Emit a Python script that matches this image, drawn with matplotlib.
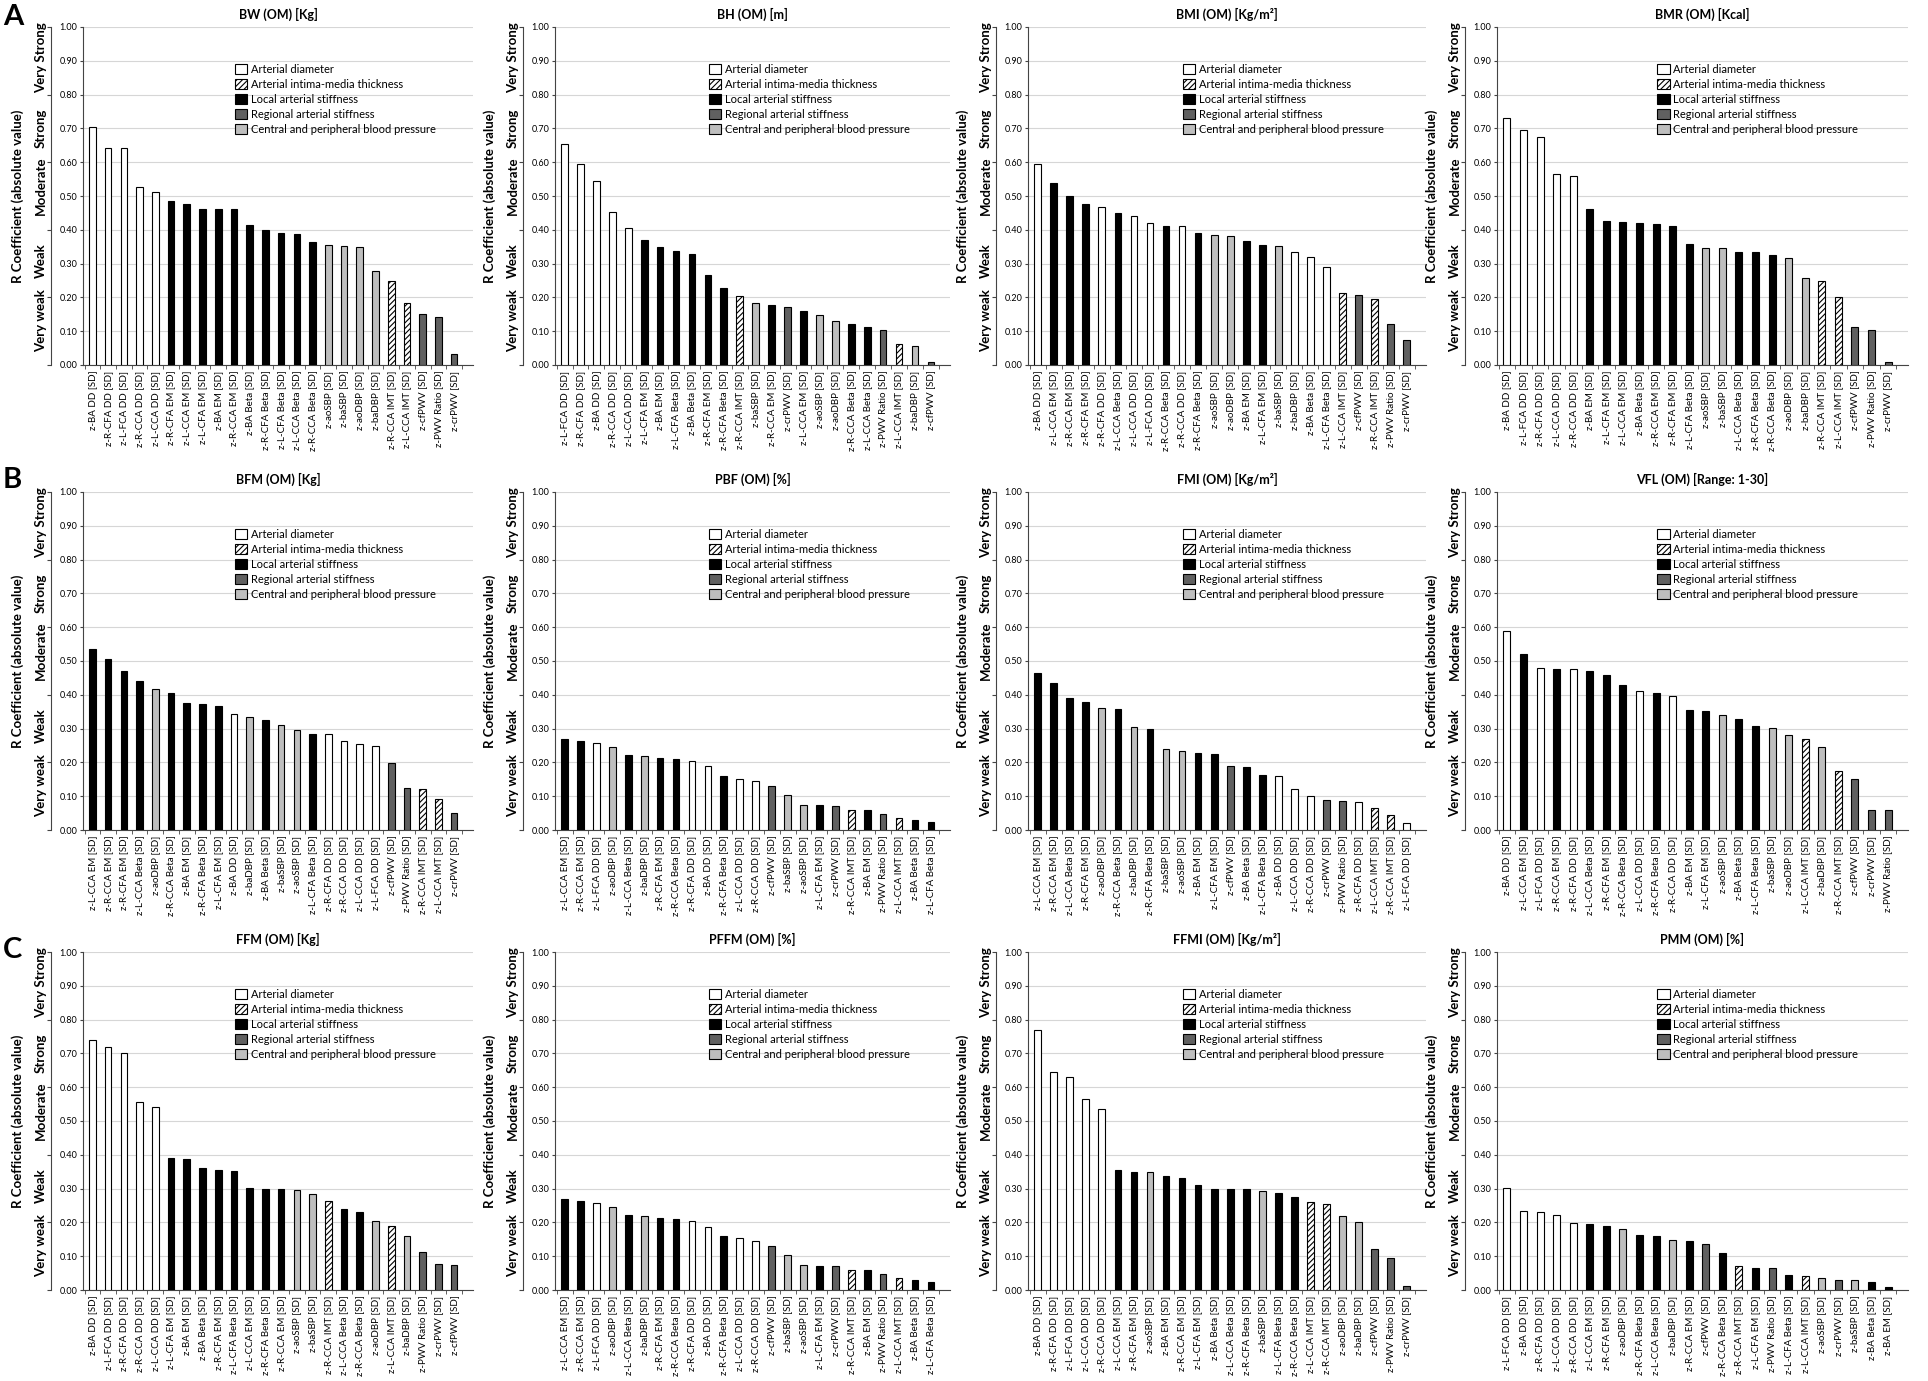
import matplotlib
matplotlib.use('Agg')
import numpy as np
import matplotlib.pyplot as plt
from matplotlib.patches import Patch

plt.rcParams['font.family'] = ['Lato', 'DejaVu Sans']
plt.rcParams['hatch.linewidth'] = 0.8

# ---- data (R coefficients, absolute value) ----
bw_labels = ['z-BA DD', 'z-R-CFA DD', 'z-L-FCA DD', 'z-R-CCA DD', 'z-L-CCA DD', 'z-R-CFA EM',
             'z-L-CCA EM', 'z-L-CFA EM', 'z-BA EM', 'z-R-CCA EM', 'z-BA Beta', 'z-R-CFA Beta',
             'z-L-CFA Beta', 'z-L-CCA Beta', 'z-R-CCA Beta', 'z-aoSBP', 'z-baSBP', 'z-aoDBP',
             'z-baDBP', 'z-R-CCA IMT', 'z-L-CCA IMT', 'z-cfPWV', 'z-PWV Ratio', 'z-crPWV']
bw_values = [0.703, 0.643, 0.641, 0.528, 0.513, 0.484, 0.477, 0.463, 0.462, 0.461, 0.415, 0.399,
             0.391, 0.387, 0.364, 0.356, 0.353, 0.350, 0.277, 0.250, 0.183, 0.150, 0.143, 0.033]

bh_labels = ['z-L-FCA DD', 'z-R-CFA DD', 'z-BA DD', 'z-R-CCA DD', 'z-L-CCA DD', 'z-L-CFA EM',
             'z-BA EM', 'z-L-CFA Beta', 'z-BA Beta', 'z-R-CFA EM', 'z-R-CFA Beta', 'z-R-CCA IMT',
             'z-baSBP', 'z-R-CCA EM', 'z-crPWV', 'z-L-CCA EM', 'z-aoSBP', 'z-aoDBP',
             'z-R-CCA Beta', 'z-L-CCA Beta', 'z-PWV Ratio', 'z-L-CCA IMT', 'z-baDBP', 'z-cfPWV']
bh_values = [0.653, 0.596, 0.544, 0.454, 0.404, 0.370, 0.349, 0.336, 0.329, 0.265, 0.229, 0.205,
             0.182, 0.177, 0.172, 0.160, 0.148, 0.130, 0.122, 0.113, 0.105, 0.063, 0.055, 0.010]

bmi_labels = ['z-BA DD', 'z-L-CCA EM', 'z-R-CCA EM', 'z-R-CFA EM', 'z-R-CFA DD', 'z-L-CCA Beta',
              'z-L-CCA DD', 'z-L-FCA DD', 'z-R-CCA Beta', 'z-R-CCA DD', 'z-R-CFA Beta', 'z-aoSBP',
              'z-aoDBP', 'z-BA EM', 'z-L-CFA EM', 'z-baSBP', 'z-baDBP', 'z-BA Beta',
              'z-L-CFA Beta', 'z-L-CCA IMT', 'z-cfPWV', 'z-R-CCA IMT', 'z-PWV Ratio', 'z-crPWV']
bmi_values = [0.596, 0.537, 0.500, 0.476, 0.468, 0.451, 0.442, 0.420, 0.412, 0.410, 0.390, 0.385,
              0.383, 0.367, 0.356, 0.352, 0.334, 0.321, 0.290, 0.213, 0.208, 0.195, 0.121, 0.075]

bmr_labels = ['z-BA DD', 'z-L-FCA DD', 'z-R-CFA DD', 'z-L-CCA DD', 'z-R-CCA DD', 'z-BA EM',
              'z-L-CFA EM', 'z-L-CCA EM', 'z-BA Beta', 'z-R-CCA EM', 'z-R-CFA EM', 'z-L-CFA Beta',
              'z-aoSBP', 'z-baSBP', 'z-L-CCA Beta', 'z-R-CFA Beta', 'z-R-CCA Beta', 'z-aoDBP',
              'z-baDBP', 'z-R-CCA IMT', 'z-L-CCA IMT', 'z-cfPWV', 'z-PWV Ratio', 'z-crPWV']
bmr_values = [0.731, 0.695, 0.675, 0.565, 0.560, 0.462, 0.425, 0.422, 0.420, 0.418, 0.412, 0.358,
              0.347, 0.347, 0.335, 0.333, 0.325, 0.318, 0.257, 0.250, 0.202, 0.112, 0.105, 0.008]

bfm_labels = ['z-L-CCA EM', 'z-R-CCA EM', 'z-R-CFA EM', 'z-L-CCA Beta', 'z-aoDBP', 'z-R-CCA Beta',
              'z-BA EM', 'z-R-CFA Beta', 'z-L-CFA EM', 'z-BA DD', 'z-baDBP', 'z-BA Beta',
              'z-baSBP', 'z-aoSBP', 'z-L-CFA Beta', 'z-R-CFA DD', 'z-R-CCA DD', 'z-L-CCA DD',
              'z-L-FCA DD', 'z-cfPWV', 'z-PWV Ratio', 'z-R-CCA IMT', 'z-L-CCA IMT', 'z-crPWV']
bfm_values = [0.535, 0.507, 0.470, 0.440, 0.417, 0.405, 0.376, 0.372, 0.368, 0.343, 0.335, 0.325,
              0.310, 0.296, 0.285, 0.283, 0.262, 0.253, 0.250, 0.198, 0.123, 0.120, 0.093, 0.050]

pbf_labels = ['z-L-CCA EM', 'z-R-CCA EM', 'z-L-FCA DD', 'z-aoDBP', 'z-L-CCA Beta', 'z-baDBP',
              'z-R-CFA EM', 'z-R-CCA Beta', 'z-R-CFA DD', 'z-BA DD', 'z-R-CFA Beta', 'z-L-CCA DD',
              'z-R-CCA DD', 'z-cfPWV', 'z-baSBP', 'z-aoSBP', 'z-L-CFA EM', 'z-crPWV',
              'z-R-CCA IMT', 'z-BA EM', 'z-PWV Ratio', 'z-L-CCA IMT', 'z-BA Beta', 'z-L-CFA Beta']
pbf_values = [0.268, 0.263, 0.258, 0.245, 0.222, 0.218, 0.212, 0.210, 0.203, 0.188, 0.160, 0.152,
              0.145, 0.130, 0.105, 0.075, 0.073, 0.070, 0.060, 0.058, 0.048, 0.035, 0.030, 0.025]

fmi_labels = ['z-L-CCA EM', 'z-R-CCA EM', 'z-L-CCA Beta', 'z-R-CFA EM', 'z-aoDBP', 'z-R-CCA Beta',
              'z-baDBP', 'z-R-CFA Beta', 'z-baSBP', 'z-aoSBP', 'z-BA EM', 'z-L-CFA EM',
              'z-cfPWV', 'z-BA Beta', 'z-L-CFA Beta', 'z-BA DD', 'z-L-CCA DD', 'z-R-CCA DD',
              'z-crPWV', 'z-PWV Ratio', 'z-R-CFA DD', 'z-L-CCA IMT', 'z-R-CCA IMT', 'z-L-FCA DD']
fmi_values = [0.465, 0.435, 0.390, 0.380, 0.362, 0.358, 0.305, 0.300, 0.240, 0.235, 0.228, 0.225,
              0.190, 0.185, 0.162, 0.160, 0.120, 0.100, 0.090, 0.085, 0.082, 0.065, 0.045, 0.022]

vfl_labels = ['z-BA DD', 'z-L-CCA EM', 'z-L-FCA DD', 'z-R-CCA EM', 'z-R-CFA DD', 'z-L-CCA Beta',
              'z-R-CFA EM', 'z-R-CCA Beta', 'z-L-CCA DD', 'z-R-CFA Beta', 'z-R-CCA DD', 'z-BA EM',
              'z-L-CFA EM', 'z-aoSBP', 'z-BA Beta', 'z-L-CFA Beta', 'z-baSBP', 'z-aoDBP',
              'z-L-CCA IMT', 'z-baDBP', 'z-R-CCA IMT', 'z-cfPWV', 'z-crPWV', 'z-PWV Ratio']
vfl_values = [0.590, 0.522, 0.480, 0.475, 0.475, 0.470, 0.460, 0.430, 0.412, 0.405, 0.395, 0.355,
              0.352, 0.340, 0.328, 0.308, 0.302, 0.280, 0.270, 0.245, 0.175, 0.150, 0.060, 0.060]

ffm_labels = ['z-BA DD', 'z-L-FCA DD', 'z-R-CFA DD', 'z-R-CCA DD', 'z-L-CCA DD', 'z-L-CFA EM',
              'z-BA EM', 'z-BA Beta', 'z-R-CFA EM', 'z-L-CFA Beta', 'z-L-CCA EM', 'z-R-CFA Beta',
              'z-R-CCA EM', 'z-aoSBP', 'z-baSBP', 'z-R-CCA IMT', 'z-L-CCA Beta', 'z-R-CCA Beta',
              'z-aoDBP', 'z-L-CCA IMT', 'z-baDBP', 'z-PWV Ratio', 'z-crPWV', 'z-cfPWV']
ffm_values = [0.740, 0.720, 0.700, 0.555, 0.540, 0.392, 0.388, 0.360, 0.355, 0.352, 0.302, 0.300,
              0.298, 0.295, 0.283, 0.262, 0.240, 0.230, 0.205, 0.190, 0.160, 0.113, 0.078, 0.073]

pffm_labels = ['z-L-CCA EM', 'z-R-CCA EM', 'z-L-FCA DD', 'z-aoDBP', 'z-L-CCA Beta', 'z-baDBP',
               'z-R-CFA EM', 'z-R-CCA Beta', 'z-R-CFA DD', 'z-BA DD', 'z-R-CFA Beta', 'z-L-CCA DD',
               'z-R-CCA DD', 'z-cfPWV', 'z-baSBP', 'z-aoSBP', 'z-L-CFA EM', 'z-crPWV',
               'z-R-CCA IMT', 'z-BA EM', 'z-PWV Ratio', 'z-L-CCA IMT', 'z-BA Beta', 'z-L-CFA Beta']
pffm_values = [0.268, 0.262, 0.258, 0.245, 0.222, 0.218, 0.212, 0.210, 0.203, 0.187, 0.160, 0.153,
               0.145, 0.130, 0.105, 0.075, 0.072, 0.070, 0.060, 0.058, 0.048, 0.035, 0.030, 0.025]

ffmi_labels = ['z-BA DD', 'z-R-CFA DD', 'z-L-FCA DD', 'z-L-CCA DD', 'z-R-CCA DD', 'z-L-CCA EM',
               'z-R-CFA EM', 'z-aoSBP', 'z-BA EM', 'z-R-CCA EM', 'z-L-CFA EM', 'z-BA Beta',
               'z-L-CCA Beta', 'z-R-CFA Beta', 'z-baSBP', 'z-L-CFA Beta', 'z-R-CCA Beta',
               'z-L-CCA IMT', 'z-R-CCA IMT', 'z-aoDBP', 'z-baDBP', 'z-cfPWV', 'z-PWV Ratio', 'z-crPWV']
ffmi_values = [0.770, 0.645, 0.630, 0.565, 0.535, 0.355, 0.350, 0.348, 0.338, 0.330, 0.310, 0.300,
               0.300, 0.298, 0.292, 0.288, 0.275, 0.260, 0.255, 0.220, 0.200, 0.120, 0.095, 0.012]

pmm_labels = ['z-L-FCA DD', 'z-BA DD', 'z-R-CFA DD', 'z-L-CCA DD', 'z-R-CCA DD', 'z-L-CCA EM',
              'z-R-CFA EM', 'z-aoDBP', 'z-R-CFA Beta', 'z-L-CCA Beta', 'z-baDBP', 'z-R-CCA EM',
              'z-cfPWV', 'z-R-CCA Beta', 'z-R-CCA IMT', 'z-L-CFA EM', 'z-PWV Ratio', 'z-L-CFA Beta',
              'z-L-CCA IMT', 'z-aoSBP', 'z-crPWV', 'z-baSBP', 'z-BA Beta', 'z-BA EM']
pmm_values = [0.302, 0.235, 0.230, 0.222, 0.198, 0.195, 0.190, 0.180, 0.162, 0.160, 0.147, 0.145,
              0.135, 0.110, 0.070, 0.065, 0.065, 0.045, 0.040, 0.035, 0.030, 0.030, 0.025, 0.008]

titles = ['BW (OM) [Kg]', 'BH (OM) [m]', 'BMI (OM) [Kg/m²]', 'BMR (OM) [Kcal]',
          'BFM (OM) [Kg]', 'PBF (OM) [%]', 'FMI (OM) [Kg/m²]', 'VFL (OM) [Range: 1-30]',
          'FFM (OM) [Kg]', 'PFFM (OM) [%]', 'FFMI (OM) [Kg/m²]', 'PMM (OM) [%]']
all_labels = [bw_labels, bh_labels, bmi_labels, bmr_labels, bfm_labels, pbf_labels,
              fmi_labels, vfl_labels, ffm_labels, pffm_labels, ffmi_labels, pmm_labels]
all_values = [bw_values, bh_values, bmi_values, bmr_values, bfm_values, pbf_values,
              fmi_values, vfl_values, ffm_values, pffm_values, ffmi_values, pmm_values]

# bars drawn white in the BMI panel despite their label group
bmi_white = [16, 17, 18]

legend_names = ['Arterial diameter', 'Arterial intima-media thickness', 'Local arterial stiffness',
                'Regional arterial stiffness', 'Central and peripheral blood pressure']
strength_names = ['Very weak', 'Weak', 'Moderate', 'Strong', 'Very Strong']

# group -> (facecolor, hatch)
styles = {'dd': ('white', None), 'imt': ('white', '//////'), 'local': ('black', None),
          'regional': ('#606060', None), 'central': ('#bebebe', None)}
group_order = ['dd', 'imt', 'local', 'regional', 'central']


def group_of(lab):
    if 'IMT' in lab:
        return 'imt'
    if 'DD' in lab:
        return 'dd'
    if 'EM' in lab or 'Beta' in lab:
        return 'local'
    if 'PWV' in lab:
        return 'regional'
    return 'central'


W, H = 1928, 1381
fig = plt.figure(figsize=(W / 100, H / 100), dpi=100)

col_left = [83, 555, 1028, 1497]
col_right = [473, 950, 1426, 1908]
row_bottom = [365, 830, 1290]
ax_h = 338

for k in range(12):
    r, c = divmod(k, 4)
    labels = all_labels[k]
    values = all_values[k]
    n = len(labels)
    rect = [col_left[c] / W, 1 - row_bottom[r] / H, (col_right[c] - col_left[c]) / W, ax_h / H]
    ax = fig.add_axes(rect)

    groups = [group_of(l) for l in labels]
    if k == 2:
        for i in bmi_white:
            groups[i] = 'dd'
    x = np.arange(n)
    bars = ax.bar(x, values, width=0.42, color=[styles[g][0] for g in groups],
                  edgecolor='black', linewidth=0.8, zorder=3)
    for b, g in zip(bars, groups):
        if styles[g][1]:
            b.set_hatch(styles[g][1])

    ax.set_xlim(-0.6, n + 0.2)
    ax.set_ylim(0, 1.0)
    ax.set_yticks(np.arange(0, 1.001, 0.1))
    ax.set_yticklabels(['%.2f' % v for v in np.arange(0, 1.001, 0.1)])
    ax.tick_params(axis='y', labelsize=6.5, length=2, pad=2, color='#444444')
    ax.yaxis.grid(True, color='#d6d6d6', linewidth=0.8)
    ax.set_axisbelow(True)

    ax.set_xticks(x)
    ax.set_xticklabels([l + ' [SD]' for l in labels], rotation=90, fontsize=7)
    ax.set_xticks(np.arange(n + 1) - 0.5, minor=True)
    ax.tick_params(axis='x', which='major', length=0, pad=4)
    ax.tick_params(axis='x', which='minor', length=3, color='#444444')
    for s in ['top', 'right']:
        ax.spines[s].set_visible(False)
    ax.spines['left'].set_color('#444444')
    ax.spines['bottom'].set_color('#444444')

    ax.set_title(titles[k], fontsize=9, fontweight='bold', pad=6)

    # strength category axis on the left
    ax2 = ax.twinx()
    ax2.set_ylim(0, 1.0)
    ax2.yaxis.tick_left()
    ax2.yaxis.set_label_position('left')
    ax2.spines['left'].set_position(('outward', 23))
    ax2.spines['left'].set_color('#444444')
    for s in ['top', 'right', 'bottom']:
        ax2.spines[s].set_visible(False)
    ax2.set_yticks(np.arange(0, 1.001, 0.2))
    ax2.set_yticklabels([])
    ax2.set_yticks([0.13, 0.31, 0.53, 0.70, 0.91], minor=True)
    ax2.set_yticklabels(strength_names, minor=True, rotation=90, va='center',
                        fontsize=9.5, fontweight='bold')
    ax2.tick_params(axis='y', which='major', length=3, color='#444444')
    ax2.tick_params(axis='y', which='minor', length=0, pad=3)
    ax2.set_ylabel('R Coefficient (absolute value)', fontsize=9.5, fontweight='bold', labelpad=8)

    handles = [Patch(facecolor=styles[g][0], hatch=styles[g][1], edgecolor='black',
                     linewidth=0.8) for g in group_order]
    ax.legend(handles, legend_names, loc='upper left', bbox_to_anchor=(0.39, 0.89),
              frameon=False, fontsize=8, handlelength=1.1, handleheight=1.0,
              handletextpad=0.3, labelspacing=0.35, borderaxespad=0, borderpad=0)

for letter, yy in zip(['A', 'B', 'C'], [17, 480, 950]):
    fig.text(3 / W, 1 - yy / H, letter, fontsize=21, fontweight='bold', va='center', ha='left')

fig.savefig('out.png', dpi=100)
